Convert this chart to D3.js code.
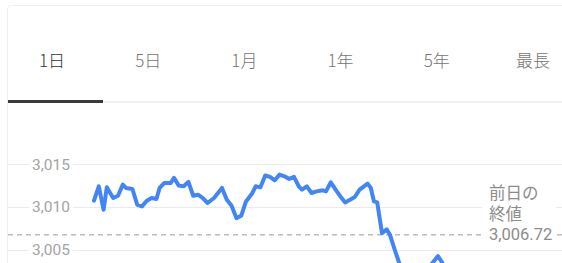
<!DOCTYPE html>
<html>
<head>
<meta charset="utf-8">
<script src="https://cdn.jsdelivr.net/npm/d3@7"></script>
<style>
  html, body { margin: 0; padding: 0; background: #fff; }
  svg { display: block; }
</style>
</head>
<body>
<div id="chart"></div>
<script>
// period tabs
var tabs = ["1日", "5日", "1月", "1年", "5年", "最長"];
var activeTab = "1日";

// minutes since open and index values
var minutes = [0, 3, 6, 8, 12, 15, 18, 20, 24, 27, 30, 33, 36, 39, 41, 44, 48, 50, 53, 56,
  59, 62, 65, 68, 71, 75, 80, 83, 86, 89, 92, 95, 99, 101, 104, 107, 110, 113, 116, 119,
  122, 125, 128, 130, 133, 136, 139, 143, 145, 148, 151, 154, 157, 160, 163, 166, 171, 173, 175, 177,
  180, 183, 185, 188, 191, 196, 203, 209, 212, 215, 217, 221];
var prices = [3010.71, 3012.39, 3009.65, 3012.27, 3011.02, 3011.29, 3012.59, 3012.20, 3012.08, 3010.24,
  3010.04, 3010.71, 3011.02, 3010.91, 3012.20, 3012.79, 3012.79, 3013.38, 3012.47, 3012.39,
  3012.91, 3011.29, 3011.41, 3011.02, 3010.44, 3011.02, 3012.20, 3010.82, 3010.12, 3008.67,
  3008.94, 3010.62, 3011.61, 3012.39, 3012.27, 3013.65, 3013.49, 3013.09, 3013.76, 3013.56,
  3013.26, 3013.49, 3012.39, 3012.00, 3012.39, 3011.61, 3011.80, 3011.92, 3011.80, 3012.86,
  3012.00, 3011.21, 3010.51, 3010.82, 3011.14, 3012.00, 3012.71, 3012.20, 3010.62, 3010.51,
  3006.91, 3007.35, 3006.71, 3004.94, 3003.29, 3002.35, 3002.59, 3002.82, 3003.53, 3004.24,
  3003.65, 3002.35];

var yTicks = [3015, 3010, 3005];
var prevClose = 3006.72;
var prevCloseLabel = ["前日の", "終値"];

var width = 562, height = 263;

var svg = d3.select("#chart").append("svg")
  .attr("width", width)
  .attr("height", height);

// card edge
svg.append("path")
  .attr("d", "M7.5," + height + "V9.5Q7.5,5.5 11.5,5.5H" + width)
  .attr("fill", "none")
  .attr("stroke", "#efefef")
  .attr("stroke-width", 1);

// tabs
var tabX = d3.scaleBand().domain(tabs).range([4, 581]);

svg.append("line")
  .attr("x1", 8).attr("x2", width)
  .attr("y1", 102).attr("y2", 102)
  .attr("stroke", "#ececec")
  .attr("stroke-width", 1.5);

svg.selectAll(".tab")
  .data(tabs)
  .enter().append("text")
  .attr("class", "tab")
  .attr("x", function(d) { return tabX(d) + tabX.bandwidth() / 2; })
  .attr("y", 67)
  .attr("text-anchor", "middle")
  .style("font-family", "'Noto Sans CJK JP', Roboto, sans-serif")
  .style("font-size", "17px")
  .style("font-weight", 300)
  .attr("fill", function(d) { return d === activeTab ? "#333" : "#757575"; })
  .text(function(d) { return d; });

svg.append("rect")
  .attr("x", 8)
  .attr("y", 100)
  .attr("width", 95)
  .attr("height", 3)
  .attr("fill", "#3a3a3a");

// scales
var x = d3.scaleLinear().domain([0, 240]).range([94, 478]);
var y = d3.scaleLinear().domain([3005, 3015]).range([249.5, 164]);

// grid lines with tick labels
var grid = svg.append("g");
grid.selectAll("line")
  .data(yTicks)
  .enter().append("line")
  .attr("x1", 8).attr("x2", width)
  .attr("y1", function(d) { return Math.round(y(d)) + 0.5; })
  .attr("y2", function(d) { return Math.round(y(d)) + 0.5; })
  .attr("stroke", "#ebebeb")
  .attr("stroke-width", 1);

grid.selectAll("rect")
  .data(yTicks)
  .enter().append("rect")
  .attr("x", 29)
  .attr("y", function(d) { return y(d) - 9; })
  .attr("width", 44)
  .attr("height", 18)
  .attr("fill", "#fff");

grid.selectAll("text")
  .data(yTicks)
  .enter().append("text")
  .attr("x", 70)
  .attr("y", function(d) { return y(d) + 5.5; })
  .attr("text-anchor", "end")
  .style("font-family", "Roboto, sans-serif")
  .style("font-size", "15.5px")
  .attr("fill", "#a3a3a3")
  .text(function(d) { return d3.format(",")(d); });

// previous close dashed line
svg.append("line")
  .attr("x1", 8).attr("x2", width)
  .attr("y1", y(prevClose)).attr("y2", y(prevClose))
  .attr("stroke", "#bdbdbd")
  .attr("stroke-width", 1.5)
  .attr("stroke-dasharray", "5,4");

// price line
var line = d3.line()
  .x(function(d, i) { return x(minutes[i]); })
  .y(function(d) { return y(d); });

svg.append("path")
  .datum(prices)
  .attr("d", line)
  .attr("fill", "none")
  .attr("stroke", "#4285f4")
  .attr("stroke-width", 4)
  .attr("stroke-linejoin", "round")
  .attr("stroke-linecap", "round");

// previous close label
var lbl = svg.append("g");
lbl.append("rect")
  .attr("x", 482)
  .attr("y", 180)
  .attr("width", 74)
  .attr("height", 64)
  .attr("fill", "#fff");

var lines = prevCloseLabel.concat([d3.format(",.2f")(prevClose)]);
lbl.selectAll("text")
  .data(lines)
  .enter().append("text")
  .attr("x", 489)
  .attr("y", function(d, i) { return 199 + i * 20.5; })
  .style("font-family", "Roboto, 'Noto Sans CJK JP', sans-serif")
  .style("font-size", "16.5px")
  .attr("fill", "#8c8c8c")
  .text(function(d) { return d; });
</script>
</body>
</html>
